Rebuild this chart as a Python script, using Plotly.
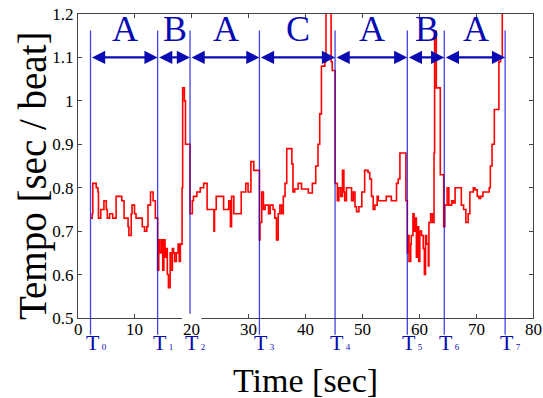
import plotly.graph_objects as go

# ---- data ----
time_s = [2.2, 2.5, 2.6, 3.2, 3.5, 3.6, 4.0, 4.56, 4.97, 5.15, 5.56, 6.1, 6.7, 7.7, 8.1, 8.8, 8.95, 9.36, 9.5, 9.94, 10.2, 11.3, 11.7, 12.1, 12.3, 12.75, 13.2, 13.6,
          14.0, 14.2, 14.4, 14.7, 14.9, 15.1, 15.3, 15.5, 15.7, 15.9, 16.2, 16.3, 16.6, 16.8, 17.0, 17.3, 17.6, 17.8, 18.0, 18.3, 18.4, 18.7, 18.9,
          19.7, 20.1, 20.3, 20.9, 21.5, 22.1, 22.7, 23.9, 24.0, 24.3, 25.6, 26.5, 26.8, 27.0, 27.4, 28.0, 28.7, 29.5, 29.9, 30.4, 30.9,
          31.9, 32.0, 32.3, 32.6, 32.9, 33.5, 33.8, 34.3, 34.6, 34.9, 35.2, 35.5, 35.8, 36.1, 36.4, 36.7, 37.6, 37.8, 38.1, 38.7, 39.3, 40.5, 41.2, 41.8, 42.2, 42.5, 42.8, 43.4, 43.6, 44.5, 44.7,
          45.2, 45.6, 45.87, 46.2, 46.5, 46.75, 46.9, 47.2, 48.1, 48.4, 48.7, 48.97, 49.4, 49.9, 50.4, 51.0, 51.3, 51.6, 51.9, 52.2, 52.6, 52.8, 54.2, 55.1, 56.0, 56.3, 56.6, 57.65,
          57.9, 58.1, 58.2, 58.5, 58.6, 58.9, 59.1, 59.3, 59.5, 59.7, 59.9, 60.1, 60.4, 60.7, 60.9, 61.1, 61.3, 61.6, 61.7, 62.0, 62.3, 62.6, 62.7, 63.0, 63.7,
          64.3, 64.5, 64.9, 65.2, 65.7, 66.0, 66.3, 67.4, 67.8, 68.2, 68.6, 68.9, 69.5, 69.8, 70.2, 70.5, 70.8, 71.2, 72.3, 72.5, 72.8, 73.2, 74.0, 74.3, 74.6, 74.9]
tempo = [0.73, 0.74, 0.81, 0.80, 0.79, 0.73, 0.75, 0.77, 0.75, 0.73, 0.74, 0.73, 0.78, 0.77, 0.73, 0.71, 0.69, 0.74, 0.76, 0.74, 0.73, 0.71, 0.70, 0.71, 0.76, 0.79, 0.77, 0.73,
         0.61, 0.68, 0.65, 0.68, 0.61, 0.68, 0.64, 0.66, 0.60, 0.57, 0.65, 0.61, 0.66, 0.65, 0.63, 0.65, 0.67, 0.63, 0.67, 0.80, 1.03, 1.00, 0.90,
         0.74, 0.77, 0.78, 0.79, 0.80, 0.81, 0.75, 0.70, 0.75, 0.78, 0.75, 0.77, 0.71, 0.78, 0.74, 0.74, 0.79, 0.81, 0.79, 0.86, 0.84,
         0.68, 0.72, 0.79, 0.75, 0.76, 0.74, 0.76, 0.75, 0.73, 0.68, 0.74, 0.76, 0.74, 0.78, 0.81, 0.89, 0.855, 0.79, 0.797, 0.81, 0.797, 0.788, 0.81, 0.85, 0.90, 0.97, 1.08, 1.09, 1.25, 1.09, 1.07,
         0.81, 0.77, 0.80, 0.78, 0.84, 0.79, 0.77, 0.80, 0.77, 0.79, 0.756, 0.745, 0.756, 0.79, 0.84, 0.835, 0.82, 0.78, 0.75, 0.76, 0.78, 0.77, 0.78, 0.77, 0.81, 0.82, 0.88, 0.77,
         0.65, 0.69, 0.63, 0.67, 0.69, 0.74, 0.70, 0.73, 0.64, 0.71, 0.63, 0.70, 0.69, 0.66, 0.60, 0.69, 0.67, 0.62, 0.72, 0.74, 0.72, 0.88, 1.16, 1.03, 0.83,
         0.71, 0.76, 0.80, 0.76, 0.77, 0.765, 0.80, 0.76, 0.75, 0.72, 0.74, 0.79, 0.80, 0.795, 0.78, 0.775, 0.78, 0.79, 0.80, 0.85, 0.90, 0.98, 1.09, 1.10, 1.30, 1.30]

boundary_times = [2.2, 14.0, 19.7, 31.9, 45.2, 57.9, 64.4, 75.1]
boundary_subs = ["0", "1", "2", "3", "4", "5", "6", "7"]
section_labels = ["A", "B", "A", "C", "A", "B", "A"]

x_ticks = [0, 10, 20, 30, 40, 50, 60, 70, 80]
x_ticktext = ["0", "10", "20", "30", "40", "50", "60", "70", "80"]
y_ticks = [0.5, 0.6, 0.7, 0.8, 0.9, 1.0, 1.1, 1.2]

FONT = "Liberation Serif, DejaVu Serif, serif"
BLUE = "#0a0ab4"
YMIN, YMAX = 0.5, 1.2

fig = go.Figure()
fig.add_trace(go.Scatter(x=time_s, y=tempo, mode="lines", line=dict(color="red", width=1.6, shape="hv"),
                         showlegend=False, hoverinfo="skip"))

shapes = []
annotations = []
line_top = (1.162 - YMIN) / (YMAX - YMIN)
for t, sub in zip(boundary_times, boundary_subs):
    shapes.append(dict(type="line", xref="x", yref="paper", x0=t, x1=t, y0=-0.055, y1=line_top,
                       line=dict(color="rgba(20,20,220,0.8)", width=1.3), layer="above"))
    annotations.append(dict(x=t, y=-0.082, xref="x", yref="paper",
                            text="T<span style='font-size:9px'> " + sub + "</span>", showarrow=False,
                            font=dict(family=FONT, size=22, color=BLUE), xanchor="left", yanchor="middle", xshift=-7))

# white patch behind the "20" tick label (as in the reference)
shapes.append(dict(type="rect", xref="x", yref="paper", x0=18.3, x1=21.7, y0=-0.06, y1=0.014,
                   fillcolor="white", line=dict(width=0), layer="above"))

# x tick labels (drawn as annotations so they sit above the white patch)
for v, txt in zip(x_ticks, x_ticktext):
    annotations.append(dict(x=v, y=-0.038, xref="x", yref="paper", text=txt, showarrow=False,
                            font=dict(family=FONT, size=17, color="black"), xanchor="center", yanchor="middle"))

for i, lab in enumerate(section_labels):
    a, b = boundary_times[i], boundary_times[i + 1]
    annotations.append(dict(x=b, y=1.1, ax=a, ay=1.1, xref="x", yref="y", axref="x", ayref="y",
                            text="", showarrow=True, arrowside="end+start", arrowhead=2, arrowsize=1.2,
                            arrowwidth=2.2, arrowcolor=BLUE, standoff=0, startstandoff=0))
    annotations.append(dict(x=(a + b) / 2, y=1.165, xref="x", yref="y", text=lab, showarrow=False,
                            font=dict(family=FONT, size=36, color=BLUE), xanchor="center", yanchor="middle",
                            xshift=1))

# axis titles
annotations.append(dict(x=0.5, y=-0.205, xref="paper", yref="paper", text="Time [sec]", showarrow=False,
                        font=dict(family=FONT, size=34, color="black"), xanchor="center", yanchor="middle"))
annotations.append(dict(x=-0.099, y=0.47, xref="paper", yref="paper", text="Tempo [sec / beat]", showarrow=False,
                        textangle=-90, font=dict(family=FONT, size=39, color="black"), xanchor="center", yanchor="middle"))

fig.update_layout(
    width=543, height=398,
    margin=dict(l=78, r=10, t=14, b=80),
    paper_bgcolor="white", plot_bgcolor="white",
    font=dict(family=FONT, size=17, color="black"),
    shapes=shapes, annotations=annotations,
    xaxis=dict(range=[0, 80], tickvals=x_ticks, showticklabels=False, ticks="inside", ticklen=4, tickcolor="#444",
               showline=True, linecolor="#444", linewidth=1.2, mirror="ticks", showgrid=False, zeroline=False,
               automargin=False),
    yaxis=dict(range=[YMIN, YMAX], tickvals=y_ticks, ticks="inside", ticklen=4, tickcolor="#444",
               showline=True, linecolor="#444", linewidth=1.2, mirror="ticks", showgrid=False, zeroline=False,
               tickfont=dict(family=FONT, size=17), automargin=False),
)

fig.write_html("out.html", config={"displayModeBar": False},
               post_script="document.body.style.margin='0';document.body.style.overflow='hidden';")
